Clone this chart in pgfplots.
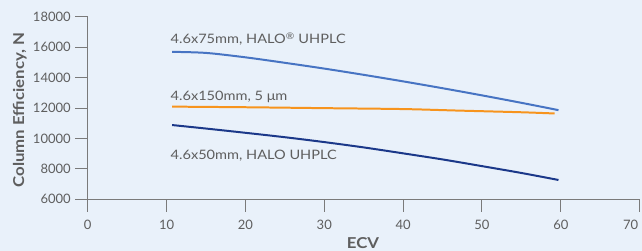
\documentclass[border=0pt]{standalone}
\usepackage{pgfplots}
\pgfplotsset{compat=1.18}
\usepackage{fontspec}
\setmainfont{Lato}
\newfontfamily\wide[FakeStretch=1.12]{Lato}
\definecolor{bgc}{HTML}{E9F1FA}
\definecolor{lblue}{HTML}{4774C3}
\definecolor{orng}{HTML}{F7941D}
\definecolor{dblue}{HTML}{1B3889}
\definecolor{axgray}{HTML}{7A7A7A}
\definecolor{txgray}{HTML}{5E5E5E}
\begin{document}
\begin{tikzpicture}
\fill[bgc] (0,0) rectangle (642bp,251bp);
\useasboundingbox (0,0) rectangle (642bp,251bp);
\begin{axis}[
  at={(87.7bp,51.7bp)}, anchor=south west,
  scale only axis, width=552bp, height=182.6bp,
  xmin=0, xmax=70, ymin=6000, ymax=18000,
  axis x line*=bottom, axis y line*=left,
  axis line style={axgray, line width=1pt},
  xtick={0,10,...,60}, ytick={6000,8000,...,18000},
  extra x ticks={70},
  extra x tick style={xticklabel style={xshift=-9bp}},
  tick align=outside, major tick length=12.5bp,
  tick style={axgray, line width=1pt},
  every tick label/.append style={font=\fontsize{13bp}{15bp}\selectfont, text=txgray},
  /pgf/number format/assume math mode=true,
  /pgf/number format/1000 sep={},
  scaled y ticks=false,
  xticklabel style={yshift=-5bp},
  yticklabel style={xshift=-1bp},
  clip=false,
]
\addplot[lblue, line width=2pt, smooth] coordinates {
(10.7,15690) (15,15620) (20,15330) (25,14970) (30,14590) (35,14180) (40,13750) (45,13300) (50,12830) (55,12340) (59.7,11860)};
\addplot[orng, line width=2pt, smooth] coordinates {
(10.7,12090) (20,12050) (30,11990) (40,11930) (47,11830) (55,11720) (59.2,11640)};
\addplot[dblue, line width=2pt, smooth] coordinates {
(10.7,10880) (15,10650) (20,10370) (25,10080) (30,9760) (35,9410) (40,9020) (45,8620) (50,8180) (55,7730) (59.7,7270)};
\node[anchor=base west, text=txgray, font=\wide\fontsize{13bp}{15bp}\selectfont, inner sep=0pt] at (axis cs:10.5,16206) {4.6x75mm, HALO\textsuperscript{\textregistered} UHPLC};
\node[anchor=base west, text=txgray, font=\wide\fontsize{13bp}{15bp}\selectfont, inner sep=0pt] at (axis cs:10.5,12525) {4.6x150mm, 5 μm};
\node[anchor=base west, text=txgray, font=\wide\fontsize{13bp}{15bp}\selectfont, inner sep=0pt] at (axis cs:10.5,8628) {4.6x50mm, HALO UHPLC};
\end{axis}
\node[rotate=90, anchor=base, text=txgray, font=\wide\bfseries\fontsize{15bp}{17bp}\selectfont, inner sep=0pt] at (24bp,141bp) {Column Efficiency, N};
\node[anchor=base, text=txgray, font=\wide\bfseries\fontsize{15bp}{17bp}\selectfont, inner sep=0pt] at (363bp,2.5bp) {ECV};
\end{tikzpicture}
\end{document}
